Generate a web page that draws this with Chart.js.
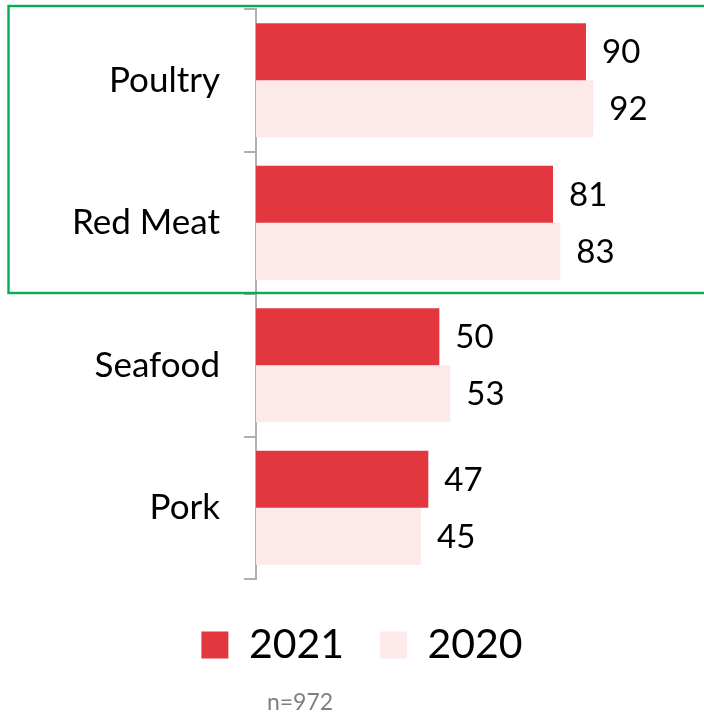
<!DOCTYPE html>
<html>
<head>
<meta charset="utf-8">
<script src="https://cdn.jsdelivr.net/npm/chart.js@4"></script>
<style>
  html, body { margin: 0; padding: 0; background: #fff; }
  #wrap { width: 704px; height: 721px; }
</style>
</head>
<body>
<div id="wrap"><canvas id="c" width="704" height="721"></canvas></div>
<script>
const categories = ["Poultry", "Red Meat", "Seafood", "Pork"];
const values2021 = [90, 81, 50, 47];
const values2020 = [92, 83, 53, 45];
const seriesNames = ["2021", "2020"];
const sampleNote = "n=972";

const FONT = "Lato, 'Open Sans', sans-serif";

const valueLabels = {
  id: "valueLabels",
  afterDatasetsDraw(chart) {
    const ctx = chart.ctx;
    ctx.save();
    ctx.font = "33px " + FONT;
    ctx.fillStyle = "#000";
    ctx.textAlign = "left";
    ctx.textBaseline = "middle";
    chart.data.datasets.forEach((ds, di) => {
      const meta = chart.getDatasetMeta(di);
      meta.data.forEach((bar, i) => {
        ctx.fillText(String(ds.data[i]), bar.x + 16, bar.y + 1);
      });
    });
    ctx.restore();
  }
};

const highlightAndNote = {
  id: "highlightAndNote",
  afterDraw(chart) {
    const ctx = chart.ctx;
    const y = chart.scales.y;
    const band = y.getPixelForValue(1) - y.getPixelForValue(0);
    const top = y.getPixelForValue(0) - band / 2 - 3;
    const bottom = y.getPixelForValue(1) + band / 2 - 1;
    ctx.save();
    ctx.strokeStyle = "#00b050";
    ctx.lineWidth = 2.4;
    ctx.strokeRect(8.5, top, 720, bottom - top);
    ctx.fillStyle = "#7f7f7f";
    ctx.font = "23px " + FONT;
    ctx.textAlign = "center";
    ctx.textBaseline = "middle";
    ctx.fillText(sampleNote, 300, chart.height - 18);
    ctx.restore();
  }
};

new Chart(document.getElementById("c"), {
  type: "bar",
  data: {
    labels: categories,
    datasets: [
      { label: seriesNames[0], data: values2021, backgroundColor: "#e3373f", categoryPercentage: 0.8, barPercentage: 1.0 },
      { label: seriesNames[1], data: values2020, backgroundColor: "#fde9e9", categoryPercentage: 0.8, barPercentage: 1.0 }
    ]
  },
  options: {
    indexAxis: "y",
    responsive: false,
    animation: false,
    devicePixelRatio: 1,
    layout: { padding: { top: 9, right: 8, left: 28, bottom: 45.5 } },
    scales: {
      x: {
        display: true, min: 0, max: 120,
        grid: { display: false },
        border: { display: false },
        ticks: { display: false },
        afterFit(scale) { scale.height = 9.5; scale.paddingLeft = 0; scale.paddingRight = 0; }
      },
      y: {
        afterFit(scale) { scale.width = 228; scale.paddingTop = 0; scale.paddingBottom = 0; },
        grid: { offset: true, drawOnChartArea: false, drawTicks: true, tickLength: 12, color: "#b0b0b0", lineWidth: 2 },
        border: { display: true, color: "#b0b0b0", width: 2 },
        ticks: { color: "#000", font: { family: FONT, size: 35 }, padding: 24 }
      }
    },
    plugins: {
      legend: {
        position: "bottom",
        labels: {
          color: "#000",
          font: { family: FONT, size: 41 },
          boxWidth: 27, boxHeight: 27,
          padding: 36
        }
      },
      tooltip: { enabled: false }
    }
  },
  plugins: [valueLabels, highlightAndNote]
});
</script>
</body>
</html>
